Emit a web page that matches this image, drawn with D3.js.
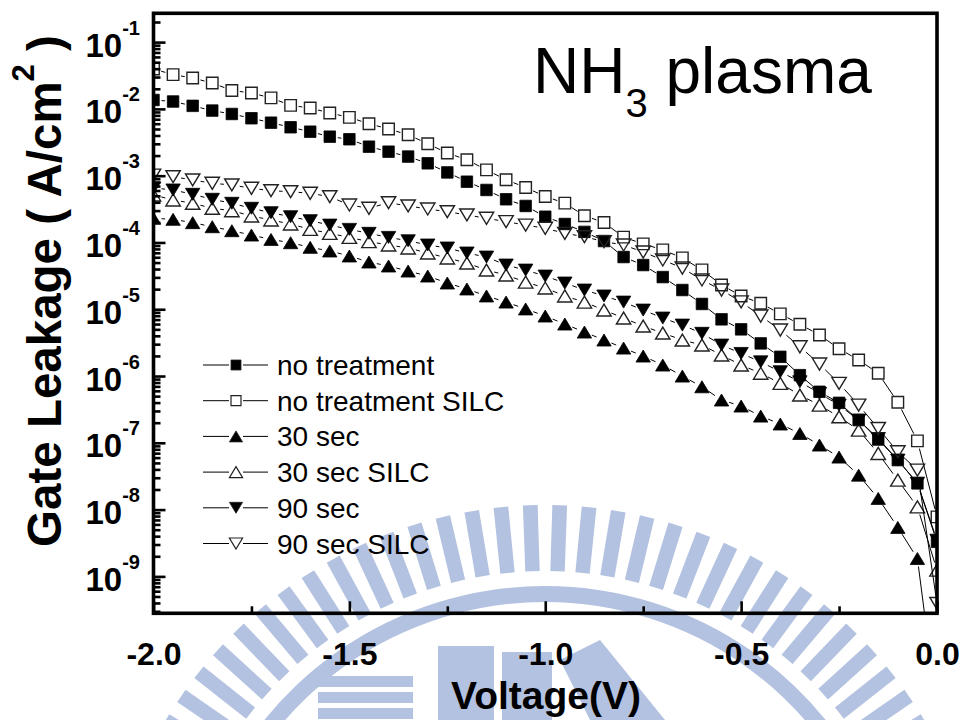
<!DOCTYPE html>
<html>
<head>
<meta charset="utf-8">
<script src="https://cdn.jsdelivr.net/npm/d3@7"></script>
<style>
  body { margin: 0; background: #fff; }
  svg { display: block; }
  text { font-family: "Liberation Sans", Arial, Helvetica, sans-serif; fill: #000; }
</style>
</head>
<body>
<svg id="chart" width="964" height="720"></svg>
<script>
// Gate voltage sweep (V)
const voltage = [-2.00, -1.95, -1.90, -1.85, -1.80, -1.75, -1.70, -1.65, -1.60, -1.55,
                 -1.50, -1.45, -1.40, -1.35, -1.30, -1.25, -1.20, -1.15, -1.10, -1.05,
                 -1.00, -0.95, -0.90, -0.85, -0.80, -0.75, -0.70, -0.65, -0.60, -0.55,
                 -0.50, -0.45, -0.40, -0.35, -0.30, -0.25, -0.20, -0.15, -0.10, -0.05, 0.00];

// Gate leakage current density (A/cm^2)
const noTreatment = [1.36e-2, 1.29e-2, 1.11e-2, 9.42e-3, 8.39e-3, 7.24e-3, 6.22e-3, 5.31e-3, 4.56e-3, 3.84e-3,
                     3.51e-3, 2.72e-3, 2.29e-3, 1.93e-3, 1.53e-3, 1.12e-3, 8.13e-4, 6.11e-4, 4.43e-4, 3.52e-4,
                     2.43e-4, 1.89e-4, 1.44e-4, 1.05e-4, 6.05e-5, 4.59e-5, 3.03e-5, 1.94e-5, 1.20e-5, 7.06e-6,
                     5.00e-6, 3.08e-6, 1.94e-6, 1.03e-6, 5.81e-7, 3.97e-7, 2.19e-7, 1.12e-7, 5.51e-8, 2.47e-8, 3.29e-9];
const noTreatmentSILC = [3.96e-2, 3.26e-2, 2.90e-2, 2.44e-2, 1.89e-2, 1.73e-2, 1.46e-2, 1.13e-2, 1.03e-2, 8.69e-3,
                         7.46e-3, 6.00e-3, 5.00e-3, 4.10e-3, 3.01e-3, 2.18e-3, 1.73e-3, 1.22e-3, 8.69e-4, 6.65e-4,
                         4.88e-4, 3.88e-4, 2.51e-4, 1.99e-4, 1.20e-4, 9.53e-5, 7.74e-5, 5.87e-5, 3.88e-5, 2.31e-5,
                         1.58e-5, 1.23e-5, 8.51e-6, 5.96e-6, 4.12e-6, 2.56e-6, 1.74e-6, 1.10e-6, 4.04e-7, 1.07e-7, 7.78e-9];
const sec30 = [2.30e-4, 2.22e-4, 1.98e-4, 1.72e-4, 1.50e-4, 1.29e-4, 1.11e-4, 9.91e-5, 8.45e-5, 7.45e-5,
               6.27e-5, 5.09e-5, 4.44e-5, 3.73e-5, 3.14e-5, 2.47e-5, 2.01e-5, 1.58e-5, 1.28e-5, 1.01e-5,
               7.91e-6, 6.00e-6, 4.55e-6, 3.46e-6, 2.62e-6, 1.99e-6, 1.46e-6, 9.98e-7, 6.90e-7, 4.37e-7,
               3.55e-7, 2.51e-7, 1.91e-7, 1.38e-7, 9.25e-8, 6.11e-8, 3.28e-8, 1.47e-8, 5.41e-9, 1.85e-9, 1.0e-11];
const sec30SILC = [5.14e-4, 4.33e-4, 3.86e-4, 3.25e-4, 2.99e-4, 2.49e-4, 2.17e-4, 1.89e-4, 1.57e-4, 1.37e-4,
                   1.19e-4, 1.03e-4, 9.16e-5, 8.26e-5, 6.95e-5, 5.85e-5, 4.92e-5, 3.86e-5, 3.25e-5, 2.55e-5,
                   2.08e-5, 1.58e-5, 1.28e-5, 9.72e-6, 7.38e-6, 5.60e-6, 4.40e-6, 3.46e-6, 2.91e-6, 2.06e-6,
                   1.46e-6, 1.10e-6, 7.76e-7, 5.19e-7, 3.67e-7, 2.45e-7, 1.55e-7, 6.93e-8, 2.76e-8, 1.10e-8, 1.24e-9];
const sec90 = [6.55e-4, 6.11e-4, 5.26e-4, 4.43e-4, 3.86e-4, 3.25e-4, 2.79e-4, 2.43e-4, 2.12e-4, 1.82e-4,
               1.57e-4, 1.37e-4, 1.19e-4, 1.06e-4, 9.16e-5, 8.26e-5, 6.95e-5, 6.05e-5, 4.59e-5, 3.86e-5,
               3.14e-5, 2.47e-5, 1.94e-5, 1.58e-5, 1.28e-5, 9.72e-6, 7.38e-6, 5.79e-6, 4.36e-6, 2.91e-6,
               2.18e-6, 1.63e-6, 1.16e-6, 8.20e-7, 5.50e-7, 3.67e-7, 2.19e-7, 1.16e-7, 5.51e-8, 2.49e-8, 3.48e-9];
const sec90SILC = [1.02e-3, 9.66e-4, 8.63e-4, 7.69e-4, 7.26e-4, 6.47e-4, 5.96e-4, 5.75e-4, 5.45e-4, 4.84e-4,
                   3.64e-4, 3.25e-4, 3.94e-4, 3.52e-4, 3.17e-4, 2.89e-4, 2.58e-4, 2.30e-4, 2.05e-4, 1.82e-4,
                   1.63e-4, 1.37e-4, 1.22e-4, 1.03e-4, 9.16e-5, 7.19e-5, 5.46e-5, 4.14e-5, 2.74e-5, 1.94e-5,
                   1.29e-5, 7.91e-6, 4.88e-6, 2.74e-6, 1.51e-6, 7.76e-7, 3.67e-7, 1.64e-7, 7.33e-8, 3.90e-8, 3.93e-10];

const seriesNames = ["no treatment", "no treatment SILC", "30 sec", "30 sec SILC", "90 sec", "90 sec SILC"];
const seriesValues = [noTreatment, noTreatmentSILC, sec30, sec30SILC, sec90, sec90SILC];

// Axis ticks
const xMajorTicks = [-2.0, -1.5, -1.0, -0.5, 0.0];
const xMinorTicks = [-1.75, -1.25, -0.75, -0.25];
const yDecades = [-1, -2, -3, -4, -5, -6, -7, -8, -9];

// Marker look per series (same order as seriesNames)
const markerStyle = [
  { shape: "square", filled: true },
  { shape: "square", filled: false },
  { shape: "up", filled: true },
  { shape: "up", filled: false },
  { shape: "down", filled: true },
  { shape: "down", filled: false }
];

const svg = d3.select("#chart");
const plot = { left: 153.5, top: 13.3, right: 937, bottom: 613.3 };

const x = d3.scaleLinear().domain([-2, 0]).range([plot.left, plot.right]);
const y = d3.scaleLog().domain([2.8e-10, 0.27]).range([plot.bottom, plot.top]);

// ---------- background emblem (pale blue) ----------
const emblem = svg.append("g").attr("fill", "#b3c2e0").attr("stroke", "none");
{
  const cx = 545, cy = 947, r1 = 376, r2 = 442;
  const a0 = -153, a1 = -27, n = 34;
  const step = (a1 - a0) / (n - 1);
  const rad = d => d * Math.PI / 180;
  const pol = (r, a) => [cx + r * Math.cos(rad(a)), cy + r * Math.sin(rad(a))];
  d3.range(n).forEach(i => {
    const a = a0 + i * step, w = step * 0.25;
    const pts = [pol(r1, a - w * 1.15), pol(r2, a - w), pol(r2, a + w), pol(r1, a + w * 1.15)];
    emblem.append("path").attr("d", "M" + pts.join("L") + "Z");
  });
  const band = d3.arc().innerRadius(345).outerRadius(361).startAngle(rad(-70)).endAngle(rad(70));
  emblem.append("path").attr("transform", `translate(${cx},${cy})`).attr("d", band());
  // inner lettering blocks
  [[318, 676, 95, 11], [318, 692, 95, 11], [318, 708, 95, 11]].forEach(([bx, by, bw, bh]) =>
    emblem.append("rect").attr("x", bx).attr("y", by).attr("width", bw).attr("height", bh));
  emblem.append("rect").attr("x", 438).attr("y", 646).attr("width", 56).attr("height", 80);
  emblem.append("rect").attr("x", 502).attr("y", 652).attr("width", 50).attr("height", 80);
  emblem.append("path").attr("d", "M560,660 L600,640 L665,720 L590,720 Z");
}

// ---------- clip region ----------
svg.append("defs").append("clipPath").attr("id", "plotClip")
  .append("rect").attr("x", plot.left).attr("y", plot.top)
  .attr("width", plot.right - plot.left).attr("height", plot.bottom - plot.top);

// ---------- marker paths ----------
function markerPath(shape, s) {
  if (shape === "square") {
    const h = s / 2;
    return `M${-h},${-h}H${h}V${h}H${-h}Z`;
  }
  const w = s * 0.6, hh = s * 0.5;
  if (shape === "up") return `M0,${-hh}L${w},${hh}L${-w},${hh}Z`;
  return `M0,${hh}L${w},${-hh}L${-w},${-hh}Z`;
}

// ---------- series ----------
const dataLayer = svg.append("g").attr("clip-path", "url(#plotClip)");
const gap = 8;

seriesValues.forEach((vals, si) => {
  const pts = voltage.map((v, i) => [x(v), y(vals[i])]);
  const segs = [];
  for (let i = 0; i < pts.length - 1; i++) {
    const [x0, y0] = pts[i], [x1, y1] = pts[i + 1];
    const dx = x1 - x0, dy = y1 - y0, len = Math.hypot(dx, dy);
    if (len <= 2 * gap) continue;
    const ux = dx / len, uy = dy / len;
    segs.push([[x0 + ux * gap, y0 + uy * gap], [x1 - ux * gap, y1 - uy * gap]]);
  }
  const g = dataLayer.append("g");
  g.selectAll("line").data(segs).join("line")
    .attr("x1", d => d[0][0]).attr("y1", d => d[0][1])
    .attr("x2", d => d[1][0]).attr("y2", d => d[1][1])
    .attr("stroke", "#000").attr("stroke-width", 1);
  const st = markerStyle[si];
  const size = st.shape === "square" ? 11.5 : 12;
  g.selectAll("path").data(pts).join("path")
    .attr("transform", d => `translate(${d[0]},${d[1]})`)
    .attr("d", markerPath(st.shape, size))
    .attr("fill", st.filled ? "#000" : "none")
    .attr("stroke", st.filled ? "#000" : "#222")
    .attr("stroke-width", st.filled ? 0.8 : 1.4);
});

// ---------- axes ----------
const minorY = [];
yDecades.concat([0]).forEach(e => {
  for (let m = 2; m <= 9; m++) {
    const v = m * Math.pow(10, e - 1);
    if (v >= y.domain()[0] && v <= y.domain()[1]) minorY.push(v);
  }
});
const majorY = yDecades.map(e => Math.pow(10, e));

const axisStyle = g => {
  g.select(".domain").remove();
  g.selectAll(".tick line").attr("stroke", "#000").attr("stroke-width", 2.6);
};

svg.append("g").attr("transform", `translate(${plot.left},0)`)
  .call(d3.axisLeft(y).tickValues(minorY).tickSize(-7).tickFormat(""))
  .call(axisStyle);
const yMajor = svg.append("g").attr("transform", `translate(${plot.left},0)`)
  .call(d3.axisLeft(y).tickValues(majorY).tickSize(-12).tickPadding(0).tickFormat(""))
  .call(axisStyle);
yMajor.selectAll(".tick text").each(function (d) {
  const t = d3.select(this).attr("x", 140 - plot.left).attr("dy", null).attr("y", 14)
    .attr("text-anchor", "end").style("font-weight", "bold").style("font-size", "33px");
  t.append("tspan").text("10");
  t.append("tspan").attr("dy", -22).style("font-size", "20px")
    .text(String(Math.round(Math.log10(d))));
});

svg.append("g").attr("transform", `translate(0,${plot.bottom})`)
  .call(d3.axisBottom(x).tickValues(xMinorTicks).tickSize(-7).tickFormat(""))
  .call(axisStyle);
const xMajor = svg.append("g").attr("transform", `translate(0,${plot.bottom})`)
  .call(d3.axisBottom(x).tickValues(xMajorTicks).tickSize(-12).tickFormat(d => d.toFixed(1)))
  .call(axisStyle);
xMajor.selectAll(".tick text").attr("dy", null).attr("y", 52)
  .style("font-weight", "bold").style("font-size", "32px").attr("fill", "#000");

// frame
svg.append("rect").attr("x", plot.left).attr("y", plot.top)
  .attr("width", plot.right - plot.left).attr("height", plot.bottom - plot.top)
  .attr("fill", "none").attr("stroke", "#000").attr("stroke-width", 3.6);

// ---------- axis titles ----------
svg.append("text").attr("x", 546).attr("y", 709).attr("text-anchor", "middle")
  .style("font-weight", "bold").style("font-size", "39px").text("Voltage(V)");

const yTitle = svg.append("text")
  .attr("transform", "translate(61,291) rotate(-90)")
  .attr("text-anchor", "middle")
  .style("font-weight", "bold").style("font-size", "47.5px");
yTitle.append("tspan").text("Gate Leakage ( A/cm");
yTitle.append("tspan").attr("dy", -27).style("font-size", "31px").text("2");
yTitle.append("tspan").attr("dy", 27).text(" )");

// ---------- title ----------
const title = svg.append("text").attr("x", 533).attr("y", 93).style("font-size", "64px");
title.append("tspan").text("NH");
title.append("tspan").attr("dy", 24).style("font-size", "40px").text("3");
title.append("tspan").attr("dy", -24).text(" plasma");

// ---------- legend ----------
const legend = svg.append("g");
seriesNames.forEach((name, i) => {
  const ly = 365 + i * 35.7;
  const row = legend.append("g");
  row.append("line").attr("x1", 203).attr("x2", 229).attr("y1", ly).attr("y2", ly)
    .attr("stroke", "#000").attr("stroke-width", 1);
  row.append("line").attr("x1", 243).attr("x2", 268).attr("y1", ly).attr("y2", ly)
    .attr("stroke", "#000").attr("stroke-width", 1);
  const st = markerStyle[i];
  row.append("path").attr("transform", `translate(236,${ly})`)
    .attr("d", markerPath(st.shape, st.shape === "square" ? 10 : 11))
    .attr("fill", st.filled ? "#000" : "#fff")
    .attr("stroke", "#222").attr("stroke-width", st.filled ? 0.8 : 1.2);
  row.append("text").attr("x", 277).attr("y", ly + 10).style("font-size", "28px").text(name);
});
</script>
</body>
</html>
